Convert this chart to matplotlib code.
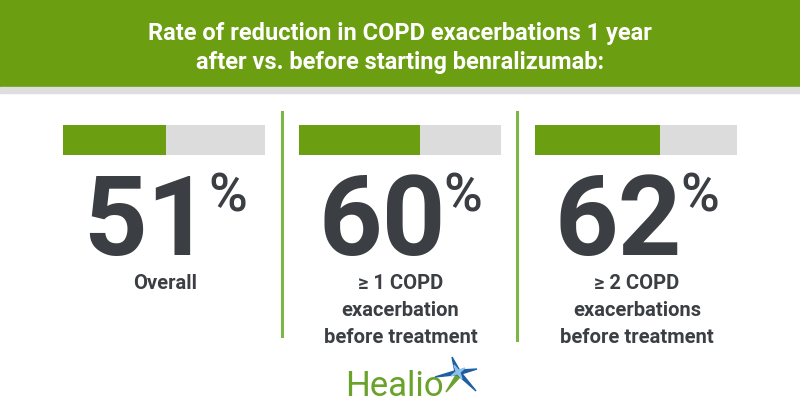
import matplotlib
matplotlib.use("Agg")
import matplotlib.pyplot as plt
from matplotlib import font_manager
from matplotlib.patches import Rectangle, Polygon
import numpy as np

# ---- data ----
values = [51, 60, 62]
value_labels = ["51", "60", "62"]
categories = [["Overall"],
              ["\u2265 1 COPD", "exacerbation", "before treatment"],
              ["\u2265 2 COPD", "exacerbations", "before treatment"]]
title_lines = ["Rate of reduction in COPD exacerbations 1 year",
               "after vs. before starting benralizumab:"]
brand = "Healio"

# ---- style ----
GREEN = "#6b9e10"
LINE_GREEN = "#7ab648"
GRAY_BAR = "#dcdcdc"
DARK = "#3b3f43"
W, H = 800, 420

names = {f.name for f in font_manager.fontManager.ttflist}
title_font = "Liberation Sans Narrow" if "Liberation Sans Narrow" in names else "Roboto"
main_font = "Roboto" if "Roboto" in names else "DejaVu Sans"

fig = plt.figure(figsize=(W / 100, H / 100), dpi=100)
ax = fig.add_axes([0, 0, 1, 1])
ax.set_xlim(0, W)
ax.set_ylim(H, 0)
ax.axis("off")

# banner
ax.add_patch(Rectangle((0, 0), W, 87, color=GREEN, zorder=1))
ax.add_patch(Rectangle((0, 87), W, 6, color="#dedede", zorder=1))
for i, line in enumerate(title_lines):
    ax.text(400, 40 + i * 29, line, ha="center", va="baseline", color="white",
            fontsize=17, fontweight="bold", family=title_font)

# bars
bar_x0 = [63, 298.5, 535]
bar_w = 202
bar_y = 140
bar_h = 30
ax.barh([bar_y] * 3, [bar_w] * 3, left=bar_x0, height=bar_h, color=GRAY_BAR, zorder=2)
ax.barh([bar_y] * 3, [v / 100 * bar_w for v in values], left=bar_x0,
        height=bar_h, color=GREEN, zorder=3)

# dividers
ax.plot([281.5, 281.5], [112, 336], color=LINE_GREEN, lw=2.2, zorder=2)
ax.plot([517, 517], [112, 340], color=LINE_GREEN, lw=2.2, zorder=2)

fig.canvas.draw()
renderer = fig.canvas.get_renderer()

for i, (v, lab) in enumerate(zip(value_labels, categories)):
    cx = bar_x0[i] + bar_w / 2 + 1
    num = ax.text(0, 255, v, ha="left", va="baseline", color=DARK,
                  fontsize=80, fontweight="bold", family=main_font)
    pct = ax.text(0, 212, "%", ha="left", va="baseline", color=DARK,
                  fontsize=38, fontweight="medium", family=main_font)
    bn = num.get_window_extent(renderer)
    bp = pct.get_window_extent(renderer)
    gap = -2
    total = bn.width + gap + bp.width
    left = cx - total / 2
    num.set_x(left)
    pct.set_x(left + bn.width + gap)
    for j, line in enumerate(lab):
        ax.text(cx, 289 + j * 27, line, ha="center", va="baseline", color=DARK,
                fontsize=14.5, fontweight="bold", family=main_font)

# logo
ax.text(394, 396, brand, ha="center", va="baseline", color="#6aa22c",
        fontsize=25, family=main_font)
# star (outer dark blue 4-point)
sc = np.array([458.0, 372.0])
tips = [np.array(p) for p in [(452, 357), (477, 369), (476, 391), (435, 377)]]
pts = []
for k, t in enumerate(tips):
    pts.append(t)
    nxt = tips[(k + 1) % 4]
    mid = (t + nxt) / 2
    pts.append(sc + 0.22 * (mid - sc))
ax.add_patch(Polygon(pts, closed=True, color="#1f5f9f", zorder=4))
# inner light star
inner = []
for k in range(4):
    a = np.deg2rad(30 + 90 * k)
    inner.append(sc + 8 * np.array([np.cos(a), -np.sin(a)]))
    a2 = a + np.pi / 4
    inner.append(sc + 1.8 * np.array([np.cos(a2), -np.sin(a2)]))
ax.add_patch(Polygon(inner, closed=True, color="#8fc0ea", zorder=5))
# green ray
ax.add_patch(Polygon([sc + [-2, 3], sc + [-12, 20], sc + [2, 5]], closed=True,
                     color="#6aa22c", zorder=3))

fig.savefig("out.png", dpi=100, facecolor="white")
